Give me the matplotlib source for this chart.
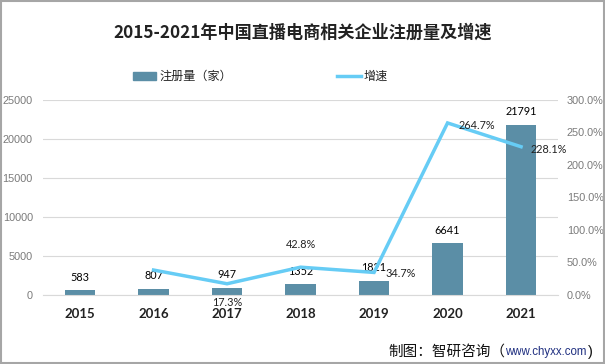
import matplotlib
matplotlib.use("Agg")
import matplotlib.pyplot as plt
from matplotlib.patches import Rectangle
from matplotlib.lines import Line2D

plt.rcParams['font.family'] = ['Noto Sans CJK SC', 'DejaVu Sans']

years = ['2015', '2016', '2017', '2018', '2019', '2020', '2021']
registrations = [583, 807, 947, 1352, 1821, 6641, 21791]
growth_years = ['2016', '2017', '2018', '2019', '2020', '2021']
growth = [38.4, 17.3, 42.8, 34.7, 264.7, 228.1]
growth_labels = [None, '17.3%', '42.8%', '34.7%', '264.7%', '228.1%']
left_ticks = [0, 5000, 10000, 15000, 20000, 25000]
right_ticks = [0, 50, 100, 150, 200, 250, 300]

bar_color = '#5b8ea6'
line_color = '#66ccf5'
tick_color = '#7a7a7a'
W, H = 605, 364

fig = plt.figure(figsize=(6.05, 3.64), dpi=100)
fig.patch.set_facecolor('white')
fig.add_artist(Rectangle((0.001, 0.002), 0.997, 0.995, transform=fig.transFigure,
                         fill=False, edgecolor='#a6a6a6', linewidth=1.5))

ax = fig.add_axes([43.3 / W, 1 - 295 / H, 514.5 / W, 195 / H])
x = list(range(len(years)))
ax.bar(x, registrations, width=0.41, color=bar_color, zorder=2)
ax.set_xlim(-0.5, len(years) - 0.5)
ax.set_ylim(0, 25000)
ax.set_yticks(left_ticks)
ax.set_yticklabels([str(v) for v in left_ticks], fontsize=7.8, color=tick_color,
                   family=['Liberation Sans'])
ax.tick_params(axis='y', length=0, pad=7.5)
ax.set_xticks(x)
ax.set_xticklabels(years, fontsize=9.5, fontweight='bold', family=['Lato'], color='#222222')
ax.tick_params(axis='x', length=0, pad=9)
ax.grid(axis='y', color='#d9d9d9', linewidth=0.8, zorder=0)
for s in ax.spines.values():
    s.set_visible(False)
ax.spines['bottom'].set_visible(True)
ax.spines['bottom'].set_color('#d9d9d9')
ax.spines['bottom'].set_linewidth(0.8)

for xi, v in zip(x, registrations):
    ax.annotate(str(v), (xi, v), xytext=(0, 9.4), textcoords='offset points',
                ha='center', va='center', fontsize=7.8, color='black', family=['Lato'])

ax2 = ax.twinx()
ax2.set_ylim(0, 300)
ax2.set_yticks(right_ticks)
ax2.set_yticklabels([f'{v:.1f}%' for v in right_ticks], fontsize=7.8, color=tick_color,
                    family=['Liberation Sans'])
ax2.tick_params(axis='y', length=0, pad=6.5)
for s in ax2.spines.values():
    s.set_visible(False)
gx = [years.index(y) for y in growth_years]
ax2.plot(gx, growth, color=line_color, linewidth=2.5, zorder=3, solid_joinstyle='miter')

offsets = {
    '17.3%': (0, -13.5, 'center', 'center'),
    '42.8%': (0, 16.5, 'center', 'center'),
    '34.7%': (8, -0.5, 'left', 'center'),
    '264.7%': (8, -1.5, 'left', 'center'),
    '228.1%': (7, -2, 'left', 'center'),
}
for xi, g, lab in zip(gx, growth, growth_labels):
    if lab is None:
        continue
    dx, dy, ha, va = offsets[lab]
    ax2.annotate(lab, (xi, g), xytext=(dx, dy), textcoords='offset points',
                 ha=ha, va=va, fontsize=7.8, color='#222222', family=['Lato'])

fig.text(0.5, 1 - 33 / H, '2015-2021年中国直播电商相关企业注册量及增速', ha='center', va='center',
         fontsize=12.3, fontweight='bold', color='#222222')

# legend
fig.add_artist(Rectangle((133 / W, 1 - 80 / H), 23 / W, 8 / H,
                         transform=fig.transFigure, color=bar_color))
fig.text(159 / W, 1 - 76 / H, '注册量（家）', ha='left', va='center', fontsize=8.7, color='#222222')
fig.add_artist(Line2D([337 / W, 361 / W], [1 - 76 / H, 1 - 76 / H],
                      transform=fig.transFigure, color=line_color, linewidth=2.5))
fig.text(364 / W, 1 - 76 / H, '增速', ha='left', va='center', fontsize=8.7, color='#222222')

# source
r = fig.canvas.get_renderer()
ys = 1 - 352 / H
t1 = fig.text(388 / W, ys, '制图：智研咨询（', ha='left', va='center', fontsize=10.5, color='#111111')
bb1 = t1.get_window_extent(r)
t2 = fig.text(bb1.x1 / fig.bbox.width, ys, 'www.chyxx.com', ha='left', va='center', fontsize=8.3,
              color='#1f2f80', family=['Liberation Sans'])
bb2 = t2.get_window_extent(r)
fig.text(bb2.x1 / fig.bbox.width + 0.002, ys, ')', ha='left', va='center', fontsize=10.5,
         color='#111111', family=['Liberation Sans'])

fig.savefig('out.png', dpi=100)
